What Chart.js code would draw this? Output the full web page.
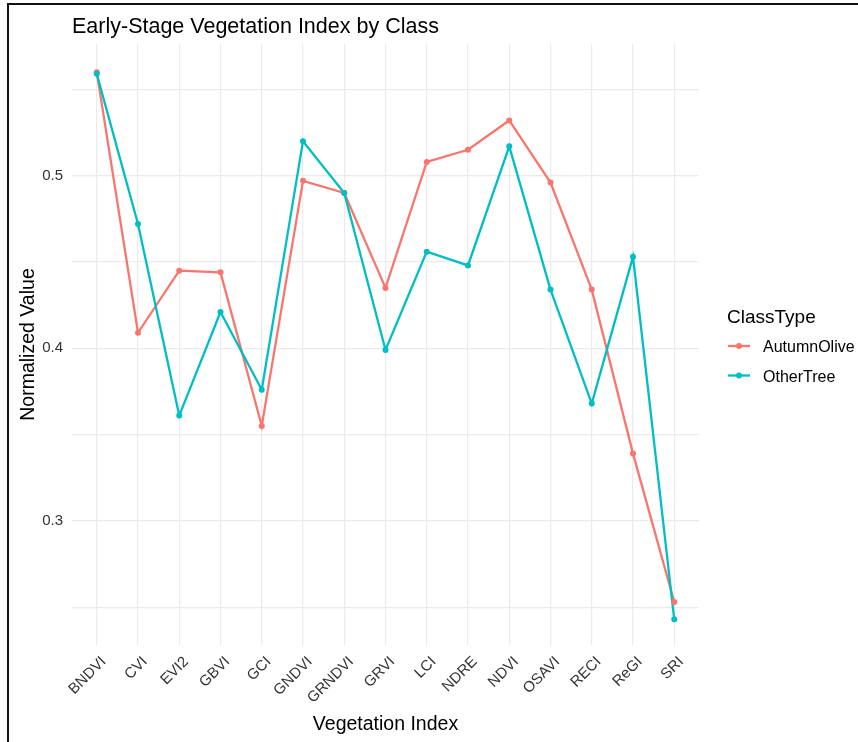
<!DOCTYPE html>
<html>
<head>
<meta charset="utf-8">
<script src="https://cdn.jsdelivr.net/npm/chart.js@4.4.1/dist/chart.umd.min.js"></script>
<style>
    body { margin: 0; background: #fff; }
    #wrap { position: relative; width: 858px; height: 742px; }
    #chart { position: absolute; left: 0; top: 0; }
    #frame {
        position: absolute; left: 7px; top: 3px; right: 0; bottom: 0;
        border-left: 2px solid #111; border-top: 2px solid #111;
        pointer-events: none;
    }
</style>
</head>
<body>
<div id="wrap">
    <canvas id="chart" width="858" height="742"></canvas>
    <div id="frame"></div>
</div>
<script>
// Chart data
const categories = ['BNDVI', 'CVI', 'EVI2', 'GBVI', 'GCI', 'GNDVI', 'GRNDVI', 'GRVI', 'LCI', 'NDRE', 'NDVI', 'OSAVI', 'RECI', 'ReGI', 'SRI'];
const autumnOlive = [0.560, 0.409, 0.445, 0.444, 0.355, 0.497, 0.490, 0.435, 0.508, 0.515, 0.532, 0.496, 0.434, 0.339, 0.253];
const otherTree   = [0.559, 0.472, 0.361, 0.421, 0.376, 0.520, 0.490, 0.399, 0.456, 0.448, 0.517, 0.434, 0.368, 0.453, 0.243];
const seriesNames = ['AutumnOlive', 'OtherTree'];
const seriesColors = ['#F8766D', '#00BFC4'];

const FONT = '"Liberation Sans", Arial, sans-serif';

function toPoints(values) {
    return values.map((v, i) => ({ x: i, y: v }));
}

// Title + legend drawn on top of the chart
const decorations = {
    id: 'decorations',
    afterDraw(chart) {
        const ctx = chart.ctx;
        ctx.save();
        ctx.fillStyle = '#000';
        ctx.textBaseline = 'alphabetic';
        ctx.textAlign = 'left';
        ctx.font = '21.5px ' + FONT;
        ctx.fillText('Early-Stage Vegetation Index by Class', 72, 32.5);

        ctx.font = '19px ' + FONT;
        ctx.fillText('ClassType', 727, 322.5);

        ctx.font = '16px ' + FONT;
        const rows = [346, 375.5];
        seriesNames.forEach((name, i) => {
            const y = rows[i];
            ctx.strokeStyle = seriesColors[i];
            ctx.lineWidth = 2.3;
            ctx.beginPath();
            ctx.moveTo(728, y);
            ctx.lineTo(750, y);
            ctx.stroke();
            ctx.fillStyle = seriesColors[i];
            ctx.beginPath();
            ctx.arc(739, y, 3, 0, Math.PI * 2);
            ctx.fill();
            ctx.fillStyle = '#000';
            ctx.textBaseline = 'middle';
            ctx.fillText(name, 763, y + 2);
        });
        ctx.restore();
    }
};

const lineStyle = { borderWidth: 2.3, pointRadius: 0, fill: false, tension: 0 };
const pointStyle = { showLine: false, pointRadius: 3, pointHoverRadius: 3, borderWidth: 0 };

new Chart(document.getElementById('chart'), {
    type: 'line',
    data: {
        datasets: [
            Object.assign({ label: seriesNames[0], data: toPoints(autumnOlive), borderColor: seriesColors[0], order: 3 }, lineStyle),
            Object.assign({ label: seriesNames[1], data: toPoints(otherTree), borderColor: seriesColors[1], order: 2 }, lineStyle),
            Object.assign({ label: seriesNames[0] + ' pts', data: toPoints(autumnOlive), backgroundColor: seriesColors[0], pointBackgroundColor: seriesColors[0], order: 1 }, pointStyle),
            Object.assign({ label: seriesNames[1] + ' pts', data: toPoints(otherTree), backgroundColor: seriesColors[1], pointBackgroundColor: seriesColors[1], order: 0 }, pointStyle)
        ]
    },
    options: {
        responsive: false,
        animation: false,
        devicePixelRatio: 1,
        layout: { padding: { top: 44, right: 159, bottom: 0, left: 0 } },
        plugins: {
            legend: { display: false },
            title: { display: false },
            tooltip: { enabled: false }
        },
        scales: {
            x: {
                type: 'linear',
                min: -0.6,
                max: 14.6,
                border: { display: false },
                grid: { color: '#EBEBEB', lineWidth: 1.2, drawTicks: false },
                ticks: {
                    stepSize: 1,
                    includeBounds: false,
                    autoSkip: false,
                    minRotation: 45,
                    maxRotation: 45,
                    padding: 8,
                    labelOffset: 7,
                    color: '#333',
                    font: { family: FONT, size: 15 },
                    callback: (value) => categories[value]
                },
                title: {
                    display: true,
                    text: 'Vegetation Index',
                    color: '#000',
                    font: { family: FONT, size: 19.5 },
                    padding: { top: 0, bottom: 6 }
                },
                afterFit(scale) { scale.height = 97; }
            },
            y: {
                min: 0.2281,
                max: 0.5763,
                border: { display: false },
                grid: { color: '#EBEBEB', lineWidth: 1.2, drawTicks: false },
                ticks: {
                    stepSize: 0.05,
                    includeBounds: false,
                    padding: 9,
                    color: '#333',
                    font: { family: FONT, size: 15 },
                    callback: (value) => {
                        const t = value * 10;
                        return Math.abs(t - Math.round(t)) < 1e-6 ? value.toFixed(1) : '';
                    }
                },
                title: {
                    display: true,
                    text: 'Normalized Value',
                    color: '#000',
                    font: { family: FONT, size: 19.5 },
                    padding: { top: 17.3, bottom: 0 }
                },
                afterFit(scale) { scale.width = 72; }
            }
        }
    },
    plugins: [decorations]
});
</script>
</body>
</html>
